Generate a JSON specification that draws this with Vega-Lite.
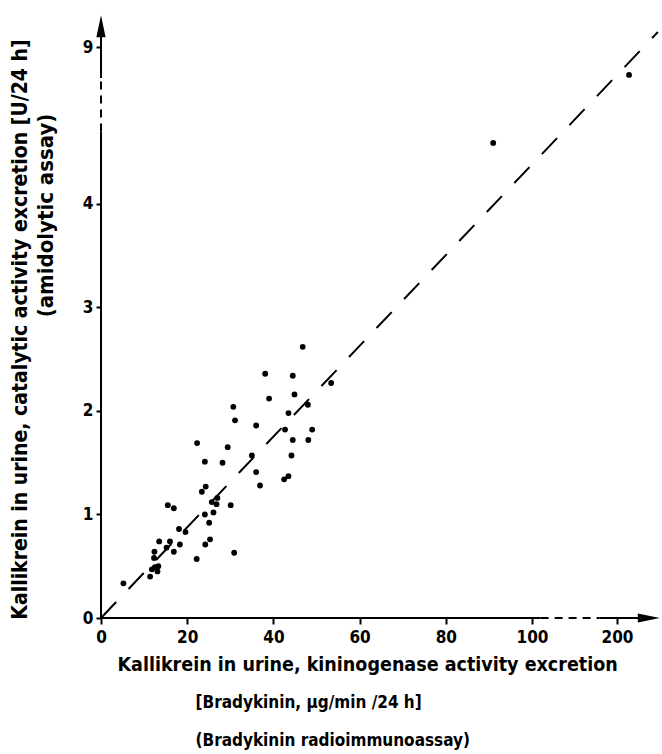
{
  "$schema": "https://vega.github.io/schema/vega-lite/v6.json",
  "width": 559,
  "height": 602,
  "autosize": {"type": "none"},
  "padding": {"left": 101, "top": 16, "right": 2, "bottom": 136},
  "background": "white",
  "config": {
    "view": {"stroke": null},
    "font": "DejaVu Sans Condensed, Liberation Sans Narrow, DejaVu Sans",
    "axis": {"labelColor": "black", "titleColor": "black", "tickColor": "black", "grid": false, "domain": false, "labelFlush": false, "labelOverlap": false}
  },
  "datasets": {
    "axisLines": [
      {"x": 0, "x2": 102, "y": 0, "y2": 0, "seg": "solid"},
      {"x": 102, "x2": 196, "y": 0, "y2": 0, "seg": "dashed"},
      {"x": 196, "x2": 207, "y": 0, "y2": 0, "seg": "solid"},
      {"x": 0, "x2": 0, "y": 0, "y2": 4.7, "seg": "solid"},
      {"x": 0, "x2": 0, "y": 4.7, "y2": 8.7, "seg": "dashed"},
      {"x": 0, "x2": 0, "y": 8.7, "y2": 9.2, "seg": "solid"}
    ],
    "points": [
      {"x": 5.2, "y": 0.335}, {"x": 11.4, "y": 0.40}, {"x": 11.8, "y": 0.47}, {"x": 12.5, "y": 0.49},
      {"x": 13.3, "y": 0.50}, {"x": 13.1, "y": 0.45}, {"x": 12.3, "y": 0.58}, {"x": 12.4, "y": 0.64},
      {"x": 13.5, "y": 0.74}, {"x": 15.2, "y": 0.68}, {"x": 16.0, "y": 0.74}, {"x": 16.9, "y": 0.64},
      {"x": 18.3, "y": 0.71}, {"x": 18.1, "y": 0.86}, {"x": 19.6, "y": 0.83}, {"x": 15.5, "y": 1.09},
      {"x": 16.9, "y": 1.06}, {"x": 22.2, "y": 0.57}, {"x": 22.3, "y": 1.69}, {"x": 24.1, "y": 1.51},
      {"x": 23.4, "y": 1.22}, {"x": 24.3, "y": 1.27}, {"x": 24.1, "y": 1.0}, {"x": 26.1, "y": 1.02},
      {"x": 25.1, "y": 0.92}, {"x": 25.3, "y": 0.76}, {"x": 24.2, "y": 0.71}, {"x": 25.7, "y": 1.12},
      {"x": 27.0, "y": 1.16}, {"x": 26.8, "y": 1.10}, {"x": 28.2, "y": 1.50}, {"x": 29.4, "y": 1.65},
      {"x": 30.7, "y": 2.04}, {"x": 31.1, "y": 1.91}, {"x": 30.1, "y": 1.09}, {"x": 30.9, "y": 0.63},
      {"x": 35.0, "y": 1.57}, {"x": 36.0, "y": 1.41}, {"x": 36.9, "y": 1.28}, {"x": 36.0, "y": 1.86},
      {"x": 38.1, "y": 2.36}, {"x": 39.0, "y": 2.12}, {"x": 42.7, "y": 1.82}, {"x": 43.5, "y": 1.98},
      {"x": 44.5, "y": 2.34}, {"x": 44.9, "y": 2.16}, {"x": 44.5, "y": 1.72}, {"x": 44.2, "y": 1.57},
      {"x": 42.5, "y": 1.34}, {"x": 43.5, "y": 1.37}, {"x": 46.8, "y": 2.62}, {"x": 48.0, "y": 2.06},
      {"x": 49.0, "y": 1.82}, {"x": 48.1, "y": 1.72}, {"x": 53.4, "y": 2.27}, {"x": 91.0, "y": 4.59},
      {"x": 202.8, "y": 8.73}
    ],
    "refLine": [{"x": 0, "y": 0}, {"x": 209.5, "y": 9.145}],
    "arrows": [{"x": 0, "y": 9.2, "dir": "up"}, {"x": 207.4, "y": 0, "dir": "right"}]
  },
  "resolve": {"axis": {"x": "independent", "y": "independent"}},
  "layer": [
    {
      "data": {"name": "axisLines"},
      "mark": {"type": "rule", "strokeWidth": 2, "color": "black"},
      "encoding": {
        "x": {
          "field": "x", "type": "quantitative",
          "scale": {"type": "linear", "domain": [0, 102, 196, 210], "range": [0, 439.6, 498.8, 559], "nice": false, "zero": false},
          "axis": {
            "orient": "bottom", "values": [0, 20, 40, 60, 80, 100, 200], "format": "d",
            "tickSize": 6, "tickWidth": 2, "labelFontSize": 17, "labelFontWeight": "bold", "labelPadding": 5,
            "title": "Kallikrein in urine, kininogenase activity excretion",
            "titleFontSize": 19.5, "titleFontWeight": "bold", "titleX": 16, "titleY": 52,
            "titleAlign": "left", "titleBaseline": "alphabetic", "titleAngle": 0
          }
        },
        "x2": {"field": "x2"},
        "y": {
          "field": "y", "type": "quantitative",
          "scale": {"type": "linear", "domain": [0, 4.7, 8.7, 9.3], "range": [602, 115.5, 62, 0], "nice": false, "zero": false},
          "axis": {
            "orient": "left", "values": [0, 1, 2, 3, 4, 9], "format": "d",
            "tickSize": 5, "tickWidth": 2, "labelFontSize": 17, "labelFontWeight": "bold", "labelPadding": 3,
            "title": "(amidolytic assay)",
            "titleFontSize": 22, "titleFontWeight": "bold", "titleX": -56, "titleY": 199,
            "titleAngle": -90, "titleAlign": "center", "titleBaseline": "middle"
          }
        },
        "y2": {"field": "y2"},
        "strokeDash": {
          "field": "seg", "type": "nominal",
          "scale": {"domain": ["solid", "dashed"], "range": [[1, 0], [8, 6]]},
          "legend": null
        }
      }
    },
    {
      "data": {"name": "points"},
      "mark": {"type": "circle", "size": 34, "color": "black", "opacity": 1},
      "encoding": {
        "x": {
          "field": "x", "type": "quantitative",
          "scale": {"type": "linear", "domain": [0, 102, 196, 210], "range": [0, 439.6, 498.8, 559], "nice": false, "zero": false},
          "axis": {
            "orient": "bottom", "labels": false, "ticks": false, "domain": false,
            "title": ["[Bradykinin, µg/min /24 h]", "(Bradykinin radioimmunoassay)"],
            "titleFontSize": 17, "titleFontWeight": "bold", "titleX": 94, "titleY": 89,
            "titleAlign": "left", "titleBaseline": "alphabetic", "titleAngle": 0, "titleLineHeight": 38
          }
        },
        "y": {
          "field": "y", "type": "quantitative",
          "scale": {"type": "linear", "domain": [0, 4.7, 8.7, 9.3], "range": [602, 115.5, 62, 0], "nice": false, "zero": false},
          "axis": {
            "orient": "left", "labels": false, "ticks": false, "domain": false,
            "title": "Kallikrein in urine, catalytic activity excretion [U/24 h]",
            "titleFontSize": 21, "titleFontWeight": "bold", "titleX": -81, "titleY": 313,
            "titleAngle": -90, "titleAlign": "center", "titleBaseline": "middle"
          }
        }
      }
    },
    {
      "data": {"name": "refLine"},
      "mark": {"type": "line", "color": "black", "strokeWidth": 2, "strokeDash": [22, 18]},
      "encoding": {
        "x": {"field": "x", "type": "quantitative", "axis": null},
        "y": {"field": "y", "type": "quantitative", "axis": null}
      }
    },
    {
      "data": {"name": "arrows"},
      "mark": {"type": "point", "filled": true, "color": "black", "opacity": 1, "size": 484},
      "encoding": {
        "x": {"field": "x", "type": "quantitative", "axis": null},
        "y": {"field": "y", "type": "quantitative", "axis": null},
        "shape": {
          "field": "dir", "type": "nominal",
          "scale": {"domain": ["up", "right"], "range": ["M0,-1L0.42,1L-0.42,1Z", "M1,0L-1,-0.42L-1,0.42Z"]},
          "legend": null
        }
      }
    }
  ]
}
